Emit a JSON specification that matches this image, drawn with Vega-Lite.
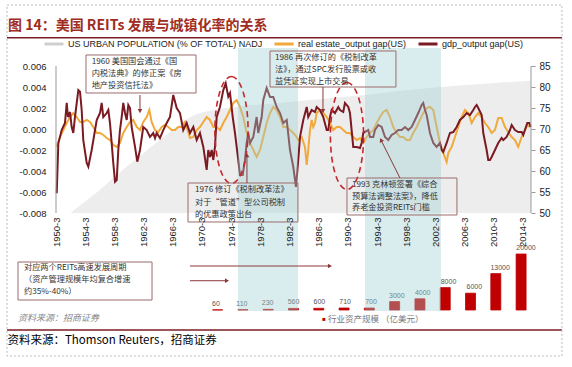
{
"$schema":"https://vega.github.io/schema/vega-lite/v6.json",
"autosize":{"type":"none"},
"width":475,"height":244,
"padding":{"left":56,"top":66,"right":41,"bottom":57},
"background":"white",
"config":{"view":{"stroke":null},"font":"Liberation Sans"},
"datasets":{
"urban":[{"t":1952.2,"v":50},{"t":1954,"v":52.5},{"t":1956.2,"v":55.5},{"t":1958,"v":58.3},{"t":1960,"v":61.2},{"t":1962,"v":64},{"t":1964,"v":66.8},{"t":1966,"v":69.5},{"t":1968,"v":72.2},{"t":1970,"v":73.8},{"t":1972,"v":74.6},{"t":1975,"v":75.3},{"t":1980,"v":76.1},{"t":1985,"v":76.9},{"t":1990,"v":77.7},{"t":1995,"v":78.6},{"t":2000,"v":79.5},{"t":2005,"v":80.3},{"t":2010,"v":80.9},{"t":2015.3,"v":81.5}],
"reits":[{"i":1,"v":60},{"i":2,"v":110},{"i":3,"v":230},{"i":4,"v":560},{"i":5,"v":600},{"i":6,"v":710},{"i":7,"v":700},{"i":8,"v":3000},{"i":9,"v":4000},{"i":10,"v":8000},{"i":11,"v":6000},{"i":12,"v":13000},{"i":13,"v":20000}],
"gdp":[{"t":1950.30,"v":-0.00612},{"t":1950.52,"v":-0.00136},{"t":1950.98,"v":-0.00010},{"t":1951.43,"v":0.00057},{"t":1951.67,"v":0.00248},{"t":1951.84,"v":0.00114},{"t":1952.12,"v":0.00162},{"t":1952.35,"v":0.00019},{"t":1952.57,"v":-0.00038},{"t":1952.80,"v":0.00114},{"t":1953.26,"v":0.00371},{"t":1953.49,"v":0.00355},{"t":1953.72,"v":0.00181},{"t":1953.94,"v":-0.00105},{"t":1954.41,"v":-0.00324},{"t":1954.63,"v":-0.00359},{"t":1955.09,"v":-0.00200},{"t":1955.78,"v":0.00086},{"t":1956.23,"v":0.00152},{"t":1956.46,"v":0.00248},{"t":1956.68,"v":0.00114},{"t":1957.15,"v":0.00152},{"t":1957.37,"v":0.00181},{"t":1957.60,"v":0.00057},{"t":1957.83,"v":-0.00133},{"t":1958.05,"v":-0.00324},{"t":1958.29,"v":-0.00502},{"t":1958.52,"v":-0.00486},{"t":1958.74,"v":-0.00200},{"t":1958.97,"v":-0.00010},{"t":1959.20,"v":0.00114},{"t":1959.42,"v":0.00248},{"t":1959.66,"v":0.00152},{"t":1959.89,"v":0.00086},{"t":1960.11,"v":0.00229},{"t":1960.34,"v":0.00200},{"t":1960.57,"v":0.00019},{"t":1961.03,"v":-0.00171},{"t":1961.34,"v":-0.00311},{"t":1961.71,"v":-0.00200},{"t":1962.16,"v":0.00019},{"t":1962.63,"v":-0.00010},{"t":1963.08,"v":-0.00076},{"t":1963.53,"v":-0.00038},{"t":1963.77,"v":-0.00086},{"t":1964.00,"v":-0.00038},{"t":1964.45,"v":-0.00086},{"t":1964.90,"v":-0.00010},{"t":1965.37,"v":0.00057},{"t":1965.82,"v":0.00114},{"t":1966.27,"v":0.00324},{"t":1966.74,"v":0.00200},{"t":1967.19,"v":0.00152},{"t":1967.64,"v":-0.00010},{"t":1968.11,"v":0.00057},{"t":1968.56,"v":-0.00038},{"t":1969.02,"v":0.00019},{"t":1969.48,"v":-0.00105},{"t":1969.93,"v":-0.00038},{"t":1970.39,"v":-0.00171},{"t":1970.85,"v":-0.00390},{"t":1971.07,"v":-0.00200},{"t":1971.30,"v":-0.00267},{"t":1971.54,"v":-0.00200},{"t":1971.76,"v":-0.00295},{"t":1971.99,"v":-0.00171},{"t":1972.22,"v":0.00114},{"t":1972.67,"v":0.00210},{"t":1973.13,"v":0.00371},{"t":1973.46,"v":0.00435},{"t":1973.81,"v":0.00308},{"t":1974.05,"v":0.00343},{"t":1974.42,"v":0.00114},{"t":1974.73,"v":-0.00038},{"t":1975.18,"v":-0.00295},{"t":1975.41,"v":-0.00438},{"t":1975.79,"v":-0.00438},{"t":1976.10,"v":-0.00295},{"t":1976.33,"v":-0.00133},{"t":1976.55,"v":-0.00038},{"t":1976.79,"v":-0.00133},{"t":1977.24,"v":-0.00076},{"t":1977.70,"v":0.00114},{"t":1977.92,"v":-0.00038},{"t":1978.39,"v":0.00114},{"t":1978.61,"v":0.00276},{"t":1979.07,"v":0.00390},{"t":1979.53,"v":0.00305},{"t":1979.98,"v":0.00305},{"t":1980.44,"v":0.00210},{"t":1980.90,"v":0.00152},{"t":1981.35,"v":0.00057},{"t":1981.82,"v":0.00086},{"t":1982.27,"v":-0.00200},{"t":1982.72,"v":-0.00362},{"t":1983.09,"v":-0.00552},{"t":1983.40,"v":-0.00295},{"t":1983.64,"v":-0.00076},{"t":1984.09,"v":0.00086},{"t":1984.56,"v":0.00210},{"t":1984.77,"v":0.00114},{"t":1985.24,"v":0.00181},{"t":1985.69,"v":0.00162},{"t":1985.93,"v":0.00210},{"t":1986.38,"v":0.00181},{"t":1986.83,"v":0.00114},{"t":1987.30,"v":-0.00010},{"t":1987.52,"v":-0.00010},{"t":1987.75,"v":0.00114},{"t":1987.98,"v":0.00181},{"t":1988.43,"v":0.00152},{"t":1988.89,"v":0.00210},{"t":1989.12,"v":0.00181},{"t":1989.57,"v":0.00162},{"t":1989.80,"v":0.00248},{"t":1990.26,"v":0.00210},{"t":1990.49,"v":0.00152},{"t":1990.94,"v":-0.00171},{"t":1991.41,"v":-0.00171},{"t":1991.86,"v":-0.00181},{"t":1992.09,"v":-0.00133},{"t":1992.31,"v":-0.00038},{"t":1993.00,"v":-0.00010},{"t":1993.23,"v":-0.00076},{"t":1993.68,"v":-0.00076},{"t":1993.92,"v":-0.00010},{"t":1994.37,"v":0.00038},{"t":1994.83,"v":0.00019},{"t":1995.29,"v":-0.00076},{"t":1995.74,"v":-0.00105},{"t":1996.20,"v":-0.00057},{"t":1996.66,"v":-0.00038},{"t":1997.11,"v":-0.00010},{"t":1997.57,"v":-0.00010},{"t":1998.03,"v":0.00019},{"t":1998.48,"v":-0.00010},{"t":1998.94,"v":0.00019},{"t":1999.40,"v":0.00086},{"t":1999.85,"v":0.00152},{"t":2000.32,"v":0.00229},{"t":2000.53,"v":0.00248},{"t":2000.77,"v":0.00181},{"t":2001.00,"v":0.00133},{"t":2001.45,"v":-0.00038},{"t":2001.91,"v":-0.00133},{"t":2002.37,"v":-0.00171},{"t":2002.82,"v":-0.00133},{"t":2003.06,"v":-0.00200},{"t":2003.28,"v":-0.00219},{"t":2003.74,"v":-0.00133},{"t":2004.19,"v":-0.00038},{"t":2004.65,"v":-0.00029},{"t":2005.11,"v":0.00019},{"t":2005.56,"v":0.00086},{"t":2006.02,"v":0.00114},{"t":2006.48,"v":0.00152},{"t":2006.93,"v":0.00133},{"t":2007.39,"v":0.00181},{"t":2007.62,"v":0.00210},{"t":2007.85,"v":0.00229},{"t":2008.07,"v":0.00200},{"t":2008.54,"v":0.00133},{"t":2008.76,"v":-0.00038},{"t":2009.22,"v":-0.00200},{"t":2009.44,"v":-0.00295},{"t":2009.68,"v":-0.00295},{"t":2009.91,"v":-0.00267},{"t":2010.36,"v":-0.00200},{"t":2010.81,"v":-0.00133},{"t":2011.28,"v":-0.00086},{"t":2011.50,"v":-0.00105},{"t":2011.96,"v":-0.00076},{"t":2012.42,"v":-0.00010},{"t":2012.65,"v":0.00038},{"t":2013.10,"v":-0.00010},{"t":2013.55,"v":-0.00029},{"t":2014.02,"v":-0.00029},{"t":2014.24,"v":-0.00057},{"t":2014.47,"v":-0.00010},{"t":2014.79,"v":0.00057},{"t":2015.06,"v":0.00057},{"t":2015.25,"v":0.00019}],
"re":[{"t":1950.30,"v":-0.00169},{"t":1950.75,"v":-0.00076},{"t":1951.20,"v":-0.00010},{"t":1951.67,"v":0.00057},{"t":1952.12,"v":0.00114},{"t":1952.57,"v":0.00152},{"t":1953.04,"v":0.00114},{"t":1953.49,"v":0.00067},{"t":1953.94,"v":0.00067},{"t":1954.41,"v":0.00086},{"t":1954.86,"v":0.00067},{"t":1955.31,"v":0.00019},{"t":1955.78,"v":-0.00038},{"t":1956.23,"v":-0.00038},{"t":1956.68,"v":-0.00057},{"t":1957.15,"v":-0.00086},{"t":1957.60,"v":-0.00105},{"t":1958.05,"v":-0.00152},{"t":1958.52,"v":-0.00171},{"t":1958.97,"v":-0.00133},{"t":1959.42,"v":-0.00038},{"t":1959.89,"v":0.00019},{"t":1960.34,"v":0.00067},{"t":1960.79,"v":0.00086},{"t":1961.26,"v":0.00019},{"t":1961.71,"v":-0.00010},{"t":1962.16,"v":0.00067},{"t":1962.63,"v":0.00114},{"t":1962.99,"v":0.00181},{"t":1963.31,"v":0.00067},{"t":1963.77,"v":-0.00010},{"t":1964.22,"v":-0.00029},{"t":1964.68,"v":0.00019},{"t":1965.14,"v":0.00038},{"t":1965.59,"v":0.00019},{"t":1966.06,"v":-0.00010},{"t":1966.51,"v":-0.00010},{"t":1966.96,"v":0.00019},{"t":1967.43,"v":0.00019},{"t":1967.88,"v":0.00067},{"t":1968.33,"v":-0.00029},{"t":1968.56,"v":-0.00086},{"t":1969.02,"v":-0.00076},{"t":1969.48,"v":-0.00010},{"t":1969.93,"v":0.00019},{"t":1970.39,"v":0.00067},{"t":1970.85,"v":0.00114},{"t":1971.30,"v":0.00086},{"t":1971.76,"v":0.00019},{"t":1972.22,"v":0.00019},{"t":1972.67,"v":-0.00010},{"t":1973.13,"v":0.00057},{"t":1973.59,"v":0.00114},{"t":1974.05,"v":0.00181},{"t":1974.50,"v":0.00248},{"t":1974.96,"v":0.00276},{"t":1975.41,"v":0.00210},{"t":1975.87,"v":0.00114},{"t":1976.33,"v":-0.00038},{"t":1976.79,"v":-0.00133},{"t":1977.24,"v":-0.00200},{"t":1977.70,"v":-0.00267},{"t":1978.16,"v":-0.00200},{"t":1978.61,"v":-0.00076},{"t":1979.07,"v":0.00057},{"t":1979.53,"v":0.00152},{"t":1979.98,"v":0.00210},{"t":1980.44,"v":0.00181},{"t":1980.90,"v":0.00114},{"t":1981.35,"v":0.00019},{"t":1981.82,"v":0.00019},{"t":1982.27,"v":-0.00010},{"t":1982.72,"v":-0.00038},{"t":1983.18,"v":-0.00076},{"t":1983.40,"v":-0.00105},{"t":1983.87,"v":-0.00076},{"t":1984.32,"v":-0.00171},{"t":1984.56,"v":-0.00343},{"t":1984.77,"v":-0.00200},{"t":1985.01,"v":-0.00010},{"t":1985.24,"v":0.00086},{"t":1985.46,"v":0.00019},{"t":1985.69,"v":0.00057},{"t":1985.93,"v":0.00152},{"t":1986.38,"v":0.00181},{"t":1986.83,"v":0.00152},{"t":1987.30,"v":0.00114},{"t":1987.75,"v":0.00057},{"t":1988.20,"v":-0.00010},{"t":1988.67,"v":0.00019},{"t":1989.12,"v":0.00019},{"t":1989.57,"v":-0.00010},{"t":1990.04,"v":-0.00038},{"t":1990.49,"v":-0.00038},{"t":1990.94,"v":-0.00076},{"t":1991.41,"v":-0.00105},{"t":1991.86,"v":-0.00086},{"t":1992.31,"v":-0.00133},{"t":1992.78,"v":-0.00076},{"t":1993.23,"v":-0.00038},{"t":1993.68,"v":-0.00010},{"t":1994.15,"v":0.00057},{"t":1994.60,"v":0.00114},{"t":1995.05,"v":0.00162},{"t":1995.52,"v":0.00181},{"t":1995.97,"v":0.00114},{"t":1996.42,"v":0.00019},{"t":1996.89,"v":-0.00038},{"t":1997.34,"v":-0.00076},{"t":1997.79,"v":-0.00076},{"t":1998.26,"v":-0.00105},{"t":1998.71,"v":-0.00105},{"t":1999.16,"v":-0.00038},{"t":1999.63,"v":0.00019},{"t":2000.08,"v":0.00086},{"t":2000.53,"v":0.00152},{"t":2001.00,"v":0.00200},{"t":2001.45,"v":0.00210},{"t":2001.91,"v":0.00181},{"t":2002.37,"v":0.00019},{"t":2002.82,"v":-0.00133},{"t":2003.28,"v":-0.00229},{"t":2003.74,"v":-0.00314},{"t":2003.96,"v":-0.00229},{"t":2004.43,"v":-0.00171},{"t":2004.88,"v":-0.00076},{"t":2005.33,"v":0.00019},{"t":2005.80,"v":0.00114},{"t":2006.25,"v":0.00181},{"t":2006.70,"v":0.00152},{"t":2007.17,"v":0.00057},{"t":2007.62,"v":0.00114},{"t":2008.07,"v":0.00152},{"t":2008.54,"v":0.00114},{"t":2008.99,"v":0.00057},{"t":2009.44,"v":0.00019},{"t":2009.91,"v":-0.00038},{"t":2010.36,"v":-0.00010},{"t":2010.81,"v":0.00105},{"t":2011.28,"v":0.00105},{"t":2011.73,"v":0.00019},{"t":2012.18,"v":-0.00029},{"t":2012.65,"v":-0.00076},{"t":2013.10,"v":-0.00105},{"t":2013.55,"v":-0.00171},{"t":2014.02,"v":-0.00076},{"t":2014.47,"v":-0.00010},{"t":2014.79,"v":0.00038},{"t":2015.16,"v":0.00019}],
"periods":[{"x":1975.14,"x2":1983.36},{"x":1992.55,"x2":2002.96}],
"axislines":[{"x":1950.2,"y":-0.008,"y2":0.006},{"x":2015.3,"y":-0.008,"y2":0.006}],
"ellipses":[{"x":1974.25,"y":-0.0001},{"x":1990.08,"y":-0.00067}],
"boxes":[{"x":1954.31,"x2":1969.39,"y":0.007048,"y2":0.003429},{"x":1979.53,"x2":1996.79,"y":0.007429,"y2":0.004},{"x":1968.29,"x2":1983.36,"y":-0.005143,"y2":-0.008857},{"x":1990.08,"x2":2005.15,"y":-0.004667,"y2":-0.00819},{"x":1944.99,"x2":1963.36,"y":-0.012667,"y2":-0.016286}],
"arrows":[{"x":1961.71,"y":0.003238,"x2":1961.71,"y2":0.0017},{"x":1986.79,"y":0.004,"x2":1986.79,"y2":0.0017},{"x":1976.37,"y":-0.005143,"x2":1976.37,"y2":-0.0026},{"x":1997.34,"y":-0.004667,"x2":1994.74,"y2":-0.00105},{"x":1968.56,"y":-0.013048,"x2":1987.75,"y2":-0.013048},{"x":1968.56,"y":-0.014448,"x2":1973.63,"y2":-0.014448}],
"heads":[{"x":1961.71,"y":0.0017,"a":180},{"x":1986.79,"y":0.0017,"a":180},{"x":1976.37,"y":-0.0025,"a":0},{"x":1994.74,"y":-0.00105,"a":333},{"x":1987.75,"y":-0.013048,"a":90},{"x":1973.63,"y":-0.014448,"a":90}],
"notes":[{"x":1955.09,"y":0.006381,"text":"1960 美国国会通过《国"},{"x":1955.09,"y":0.005238,"text":"内税法典》的修正案《房"},{"x":1955.09,"y":0.004095,"text":"地产投资信托法》"},{"x":1980.21,"y":0.006762,"text":"1986 再次修订的《税制改革"},{"x":1980.21,"y":0.005619,"text":"法》，通过SPC发行股票或收"},{"x":1980.21,"y":0.004476,"text":"益凭证实现上市交易"},{"x":1969.25,"y":-0.005857,"text":"1976 修订《税制改革法》"},{"x":1969.25,"y":-0.007,"text":"对于“管道”型公司税制"},{"x":1969.25,"y":-0.008143,"text":"的优惠政策出台"},{"x":1990.76,"y":-0.005286,"text":"1993 克林顿签署《综合"},{"x":1990.76,"y":-0.006429,"text":"预算法调整法案》，降低"},{"x":1990.76,"y":-0.007571,"text":"养老金投资REITs门槛"},{"x":1945.81,"y":-0.013238,"text":"对应两个REITs高速发展周期"},{"x":1945.81,"y":-0.014381,"text":"（资产管理规模年均复合增速"},{"x":1945.81,"y":-0.015524,"text":"约35%-40%）"}],
"title":[{"x":1943.62,"y":0.009762,"text":"图 14：美国 REITs 发展与城镇化率的关系"}],
"rules":[{"x":1943.485,"x2":2019.54,"y":0.008695},{"x":1943.485,"x2":2019.54,"y":-0.019143}],
"frame":[{"x":1943.485,"x2":2019.54,"y":0.01181,"y2":-0.021619}],
"footer":[{"x":1943.55,"y":-0.02019,"text":"资料来源：Thomson Reuters，招商证券"}],
"source":[{"x":1944.99,"y":-0.018,"text":"资料来源：招商证券"}],
"barlegend":[{"x":1987.48,"y":-0.018095,"text":"行业资产规模"},{"x":1994.74,"y":-0.018095,"text":"（亿美元）"}],
"barkey":[{"x":1986.93,"y":-0.018095,"text":"■"}]
},
"resolve":{"scale":{"x":"independent","y":"independent"}},
"layer":[
 {"data":{"name":"urban"},"mark":{"type":"area","color":"#ededed","interpolate":"monotone"},
  "encoding":{
   "x":{"field":"t","type":"quantitative","scale":{"domain":[1950.2,2015.3],"nice":false,"zero":false},"axis":null},
   "y":{"field":"v","type":"quantitative","scale":{"domain":[26.905,85],"nice":false,"zero":false},"axis":{"orient":"right","values":[50,55,60,65,70,75,80,85],"title":null,"domain":false,"ticks":true,"tickSize":4,"tickColor":"#999","labelPadding":4,"labelFontSize":10,"labelColor":"#222","grid":false,"zindex":1}},
   "y2":{"datum":50}}},
 {"data":{"name":"reits"},"mark":{"type":"bar","width":10,"color":"#c00000","stroke":"#c00000","strokeWidth":0.8},
  "encoding":{
   "x":{"field":"i","type":"quantitative","scale":{"domain":[-5.194,13.194],"nice":false,"zero":false},"axis":null},
   "y":{"field":"v","type":"quantitative","scale":{"domain":[0,87143],"nice":false,"zero":false},"axis":null}}},
 {"data":{"name":"reits"},"mark":{"type":"text","dy":-3,"baseline":"bottom","fontSize":7,"color":"#555","font":"Liberation Sans"},
  "encoding":{
   "x":{"field":"i","type":"quantitative","scale":{"domain":[-5.194,13.194],"nice":false,"zero":false},"axis":null},
   "y":{"field":"v","type":"quantitative","scale":{"domain":[0,87143],"nice":false,"zero":false},"axis":null},
   "text":{"field":"v","type":"quantitative","format":"d"}}},
 {"data":{"name":"re"},"mark":{"type":"line","strokeWidth":2},
  "encoding":{
   "x":{"field":"t","type":"quantitative","scale":{"domain":[1950.2,2015.3],"nice":false,"zero":false},"axis":null},
   "y":{"field":"v","type":"quantitative","scale":{"domain":[-0.017238,0.006],"nice":false,"zero":false},"axis":null},
   "color":{"datum":"real estate_output gap(US)"}}},
 {"data":{"name":"gdp"},"mark":{"type":"line","strokeWidth":2},
  "encoding":{
   "x":{"field":"t","type":"quantitative","scale":{"domain":[1950.2,2015.3],"nice":false,"zero":false},
     "axis":{"orient":"bottom","offset":-97,"values":[1950.2,1954.2,1958.2,1962.2,1966.2,1970.2,1974.2,1978.2,1982.2,1986.2,1990.2,1994.2,1998.2,2002.2,2006.2,2010.2,2014.2],"labelExpr":"floor(datum.value) + '-3'","labelAngle":-90,"domain":false,"ticks":false,"labelPadding":4,"labelFontSize":9.5,"labelColor":"#222","title":null,"grid":false,"zindex":1,"labelOverlap":false,"labelFlush":false}},
   "y":{"field":"v","type":"quantitative","scale":{"domain":[-0.017238,0.006],"nice":false,"zero":false},
     "axis":{"orient":"left","values":[-0.008,-0.006,-0.004,-0.002,0,0.002,0.004,0.006],"labelExpr":"replace(format(datum.value,'.3f'),'−','-')","domain":false,"ticks":false,"labelPadding":10,"labelFontSize":9.5,"labelColor":"#222","title":null,"grid":false}},
   "color":{"datum":"gdp_output gap(US)","scale":{"domain":["US URBAN POPULATION (% OF TOTAL) NADJ","real estate_output gap(US)","gdp_output gap(US)"],"range":["#cfcfcf","#f2a93b","#7b1a22"]},
     "legend":{"orient":"none","legendX":-13,"legendY":-33,"direction":"horizontal","title":null,"symbolType":"stroke","symbolSize":361,"symbolStrokeWidth":3,"labelFontSize":9,"labelFont":"Liberation Sans","labelColor":"#222","labelLimit":400,"columnPadding":5,"labelOffset":3,
       "encode":{"symbols":{"update":{"stroke":{"scale":"color","field":"value"},"strokeWidth":{"value":3}}}}}}}},
 {"data":{"name":"periods"},"mark":{"type":"rect","color":"#9fd0d3","opacity":0.38},
  "encoding":{
   "x":{"field":"x","type":"quantitative","scale":{"domain":[1950.2,2015.3],"nice":false,"zero":false},"axis":null},
   "x2":{"field":"x2"},
   "y":{"datum":0.007714,"type":"quantitative","scale":{"domain":[-0.017238,0.006],"nice":false,"zero":false},"axis":null},
   "y2":{"datum":-0.017333}}},
 {"data":{"name":"axislines"},"mark":{"type":"rule","color":"#999","strokeWidth":1},
  "encoding":{
   "x":{"field":"x","type":"quantitative","scale":{"domain":[1950.2,2015.3],"nice":false,"zero":false},"axis":null},
   "y":{"field":"y","type":"quantitative","scale":{"domain":[-0.017238,0.006],"nice":false,"zero":false},"axis":null},
   "y2":{"field":"y2"}}},
 {"data":{"name":"ellipses"},"mark":{"type":"point","shape":"M 0 -1 C 0.1712 -1 0.31 -0.5523 0.31 0 C 0.31 0.5523 0.1712 1 0 1 C -0.1712 1 -0.31 0.5523 -0.31 0 C -0.31 -0.5523 -0.1712 -1 0 -1 Z","size":11450,"filled":false,"stroke":"#c3282d","strokeWidth":1.6,"strokeDash":[6,4],"opacity":1},
  "encoding":{
   "x":{"field":"x","type":"quantitative","scale":{"domain":[1950.2,2015.3],"nice":false,"zero":false},"axis":null},
   "y":{"field":"y","type":"quantitative","scale":{"domain":[-0.017238,0.006],"nice":false,"zero":false},"axis":null}}},
 {"data":{"name":"boxes"},"mark":{"type":"rect","fill":null,"fillOpacity":0,"stroke":"#9c6b6b","strokeWidth":1},
  "encoding":{
   "x":{"field":"x","type":"quantitative","scale":{"domain":[1950.2,2015.3],"nice":false,"zero":false},"axis":null},
   "x2":{"field":"x2"},
   "y":{"field":"y","type":"quantitative","scale":{"domain":[-0.017238,0.006],"nice":false,"zero":false},"axis":null},
   "y2":{"field":"y2"}}},
 {"data":{"name":"arrows"},"mark":{"type":"rule","color":"#8b3a3a","strokeWidth":1},
  "encoding":{
   "x":{"field":"x","type":"quantitative","scale":{"domain":[1950.2,2015.3],"nice":false,"zero":false},"axis":null},
   "x2":{"field":"x2"},
   "y":{"field":"y","type":"quantitative","scale":{"domain":[-0.017238,0.006],"nice":false,"zero":false},"axis":null},
   "y2":{"field":"y2"}}},
 {"data":{"name":"heads"},"mark":{"type":"point","shape":"triangle-up","size":22,"filled":true,"color":"#8b3a3a","opacity":1},
  "encoding":{
   "x":{"field":"x","type":"quantitative","scale":{"domain":[1950.2,2015.3],"nice":false,"zero":false},"axis":null},
   "y":{"field":"y","type":"quantitative","scale":{"domain":[-0.017238,0.006],"nice":false,"zero":false},"axis":null},
   "angle":{"field":"a","type":"quantitative","scale":null}}},
 {"data":{"name":"notes"},"mark":{"type":"text","align":"left","baseline":"middle","font":"Noto Sans CJK SC","fontSize":8.2,"color":"#333"},
  "encoding":{
   "x":{"field":"x","type":"quantitative","scale":{"domain":[1950.2,2015.3],"nice":false,"zero":false},"axis":null},
   "y":{"field":"y","type":"quantitative","scale":{"domain":[-0.017238,0.006],"nice":false,"zero":false},"axis":null},
   "text":{"field":"text"}}},
 {"data":{"name":"title"},"mark":{"type":"text","align":"left","baseline":"middle","font":"Noto Sans CJK SC","fontSize":14,"fontWeight":"bold","color":"#a02c22"},
  "encoding":{
   "x":{"field":"x","type":"quantitative","scale":{"domain":[1950.2,2015.3],"nice":false,"zero":false},"axis":null},
   "y":{"field":"y","type":"quantitative","scale":{"domain":[-0.017238,0.006],"nice":false,"zero":false},"axis":null},
   "text":{"field":"text"}}},
 {"data":{"name":"rules"},"mark":{"type":"rule","color":"#7b1c24","strokeWidth":1.5},
  "encoding":{
   "x":{"field":"x","type":"quantitative","scale":{"domain":[1950.2,2015.3],"nice":false,"zero":false},"axis":null},
   "x2":{"field":"x2"},
   "y":{"field":"y","type":"quantitative","scale":{"domain":[-0.017238,0.006],"nice":false,"zero":false},"axis":null}}},
 {"data":{"name":"frame"},"mark":{"type":"rect","fill":null,"fillOpacity":0,"stroke":"#bbbbbb","strokeWidth":1,"strokeDash":[2,2]},
  "encoding":{
   "x":{"field":"x","type":"quantitative","scale":{"domain":[1950.2,2015.3],"nice":false,"zero":false},"axis":null},
   "x2":{"field":"x2"},
   "y":{"field":"y","type":"quantitative","scale":{"domain":[-0.017238,0.006],"nice":false,"zero":false},"axis":null},
   "y2":{"field":"y2"}}},
 {"data":{"name":"footer"},"mark":{"type":"text","align":"left","baseline":"middle","font":"Noto Sans CJK SC","fontSize":11.5,"color":"#000"},
  "encoding":{
   "x":{"field":"x","type":"quantitative","scale":{"domain":[1950.2,2015.3],"nice":false,"zero":false},"axis":null},
   "y":{"field":"y","type":"quantitative","scale":{"domain":[-0.017238,0.006],"nice":false,"zero":false},"axis":null},
   "text":{"field":"text"}}},
 {"data":{"name":"source"},"mark":{"type":"text","align":"left","baseline":"middle","font":"Noto Sans CJK SC","fontSize":9,"fontStyle":"italic","color":"#888"},
  "encoding":{
   "x":{"field":"x","type":"quantitative","scale":{"domain":[1950.2,2015.3],"nice":false,"zero":false},"axis":null},
   "y":{"field":"y","type":"quantitative","scale":{"domain":[-0.017238,0.006],"nice":false,"zero":false},"axis":null},
   "text":{"field":"text"}}},
 {"data":{"name":"barlegend"},"mark":{"type":"text","align":"left","baseline":"middle","font":"Noto Sans CJK SC","fontSize":8.5,"color":"#777"},
  "encoding":{
   "x":{"field":"x","type":"quantitative","scale":{"domain":[1950.2,2015.3],"nice":false,"zero":false},"axis":null},
   "y":{"field":"y","type":"quantitative","scale":{"domain":[-0.017238,0.006],"nice":false,"zero":false},"axis":null},
   "text":{"field":"text"}}},
 {"data":{"name":"barkey"},"mark":{"type":"text","align":"center","baseline":"middle","font":"Liberation Sans","fontSize":6,"color":"#c00000"},
  "encoding":{
   "x":{"field":"x","type":"quantitative","scale":{"domain":[1950.2,2015.3],"nice":false,"zero":false},"axis":null},
   "y":{"field":"y","type":"quantitative","scale":{"domain":[-0.017238,0.006],"nice":false,"zero":false},"axis":null},
   "text":{"field":"text"}}}
]
}
